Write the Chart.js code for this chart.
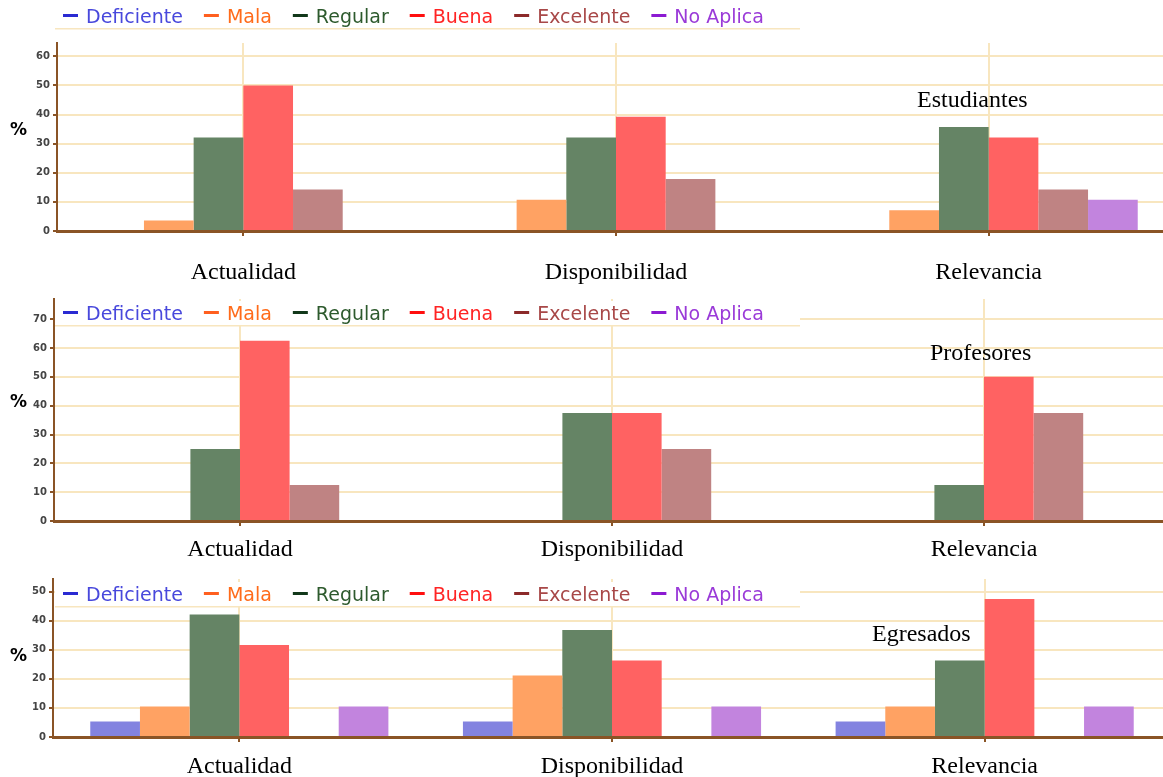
<!DOCTYPE html>
<html>
<head>
<meta charset="utf-8">
<script src="https://cdn.jsdelivr.net/npm/chart.js@4.4.1/dist/chart.umd.min.js"></script>
<style>
  html, body { margin: 0; padding: 0; background: #fff; overflow: hidden; width: 1163px; height: 777px; position: relative; }
  canvas { position: absolute; left: 0; }
</style>
</head>
<body>
<canvas id="est" width="1175" height="310" style="top:0px"></canvas>
<canvas id="prof" width="1170" height="284" style="top:290px"></canvas>
<canvas id="egr" width="1171" height="222" style="top:570px"></canvas>
<script>
// categories and series
const categories = ["Actualidad", "Disponibilidad", "Relevancia"];
const seriesNames = ["Deficiente", "Mala", "Regular", "Buena", "Excelente", "No Aplica"];

// Estudiantes (%)
const estDeficiente = [0, 0, 0];
const estMala = [3.6, 10.7, 7.1];
const estRegular = [32.1, 32.1, 35.7];
const estBuena = [50, 39.3, 32.1];
const estExcelente = [14.3, 17.9, 14.3];
const estNoAplica = [0, 0, 10.7];

// Profesores (%)
const profDeficiente = [0, 0, 0];
const profMala = [0, 0, 0];
const profRegular = [25, 37.5, 12.5];
const profBuena = [62.5, 37.5, 50];
const profExcelente = [12.5, 25, 37.5];
const profNoAplica = [0, 0, 0];

// Egresados (%)
const egrDeficiente = [5.3, 5.3, 5.3];
const egrMala = [10.5, 21.1, 10.5];
const egrRegular = [42.1, 36.8, 26.3];
const egrBuena = [31.6, 26.3, 47.4];
const egrExcelente = [0, 0, 0];
const egrNoAplica = [10.5, 10.5, 10.5];

const yTickValues = [0, 10, 20, 30, 40, 50, 60, 70];

// styles
const barColors = ["#8383e0", "#ffa263", "#658465", "#ff6262", "#bf8383", "#c284de"];
const legendLineColors = ["#2a2ad2", "#ff5f1f", "#12381a", "#ff0f0f", "#8c2a2a", "#8c1ad2"];
const legendTextColors = ["#4848dc", "#ff6b1a", "#2d5a2d", "#ff2424", "#a84848", "#9a3ad8"];
const axisColor = "#8a5426";
const gridColor = "#f8e6bf";

const overlay = {
  id: "overlay",
  afterDraw(chart, args, o) {
    const ctx = chart.ctx;
    ctx.save();
    // legend box
    ctx.fillStyle = "#fff";
    ctx.fillRect(55, o.legendBase - 19, 745, 24);
    ctx.fillStyle = gridColor;
    ctx.fillRect(55, o.legendBase + 5, 745, 1.5);
    ctx.font = '19px "DejaVu Sans"';
    ctx.textBaseline = "alphabetic";
    let x = 63;
    chart.data.datasets.forEach((ds, i) => {
      ctx.fillStyle = legendLineColors[i];
      ctx.fillRect(x, o.legendBase - 9, 15, 3);
      x += 23;
      ctx.fillStyle = legendTextColors[i];
      ctx.fillText(ds.label, x, o.legendBase);
      x += ctx.measureText(ds.label).width + 21;
    });
    // group title
    ctx.fillStyle = "#000";
    ctx.font = '24px "Liberation Serif"';
    ctx.fillText(o.title, o.titleX, o.titleBase);
    // y label
    ctx.font = 'bold 17px "DejaVu Sans"';
    ctx.fillText("%", 10, o.pctBase);
    ctx.restore();
  }
};

function makeChart(id, seriesData, cfg) {
  const datasets = seriesNames.map((name, i) => ({
    label: name,
    data: seriesData[i],
    backgroundColor: barColors[i],
    borderWidth: 0,
    categoryPercentage: 0.8,
    barPercentage: 1.0
  }));

  return new Chart(document.getElementById(id), {
    type: "bar",
    data: { labels: categories, datasets: datasets },
    plugins: [overlay],
    options: {
      responsive: false,
      animation: false,
      layout: { padding: { top: cfg.padTop, bottom: cfg.padBottom, left: 0, right: 0 } },
      plugins: {
        legend: { display: false },
        tooltip: { enabled: false },
        overlay: cfg.overlay
      },
      scales: {
        x: {
          ticks: {
            font: { family: "Liberation Serif", size: 24 },
            color: "#000",
            padding: cfg.labelPad
          },
          grid: { offset: false, color: gridColor, lineWidth: 2, tickLength: 5, tickColor: axisColor, tickWidth: 2 },
          border: { color: axisColor, width: 3 }
        },
        y: {
          min: 0,
          max: cfg.yMax,
          afterBuildTicks: s => {
            s.ticks = yTickValues.filter(v => v < cfg.yMax).map(v => ({ value: v }));
          },
          afterFit: s => { s.width = cfg.yWidth; },
          ticks: {
            font: { family: "DejaVu Sans", size: 10, weight: "bold" },
            color: "#444",
            padding: 3
          },
          grid: { color: gridColor, lineWidth: 2, tickLength: 4, tickColor: axisColor, tickWidth: 2 },
          border: { color: axisColor, width: 2 }
        }
      }
    }
  });
}

makeChart("est",
  [estDeficiente, estMala, estRegular, estBuena, estExcelente, estNoAplica],
  { padTop: 43, padBottom: 1.2, labelPad: 22, yMax: 64.6, yWidth: 57,
    overlay: { legendBase: 23, title: "Estudiantes", titleX: 917, titleBase: 107, pctBase: 135 } });

makeChart("prof",
  [profDeficiente, profMala, profRegular, profBuena, profExcelente, profNoAplica],
  { padTop: 7, padBottom: 1.2, labelPad: 9, yMax: 77, yWidth: 54,
    overlay: { legendBase: 30, title: "Profesores", titleX: 930, titleBase: 70, pctBase: 117 } });

makeChart("egr",
  [egrDeficiente, egrMala, egrRegular, egrBuena, egrExcelente, egrNoAplica],
  { padTop: 8, padBottom: 1.2, labelPad: 10, yMax: 54.3, yWidth: 53,
    overlay: { legendBase: 31, title: "Egresados", titleX: 872, titleBase: 71, pctBase: 91 } });
</script>
</body>
</html>
